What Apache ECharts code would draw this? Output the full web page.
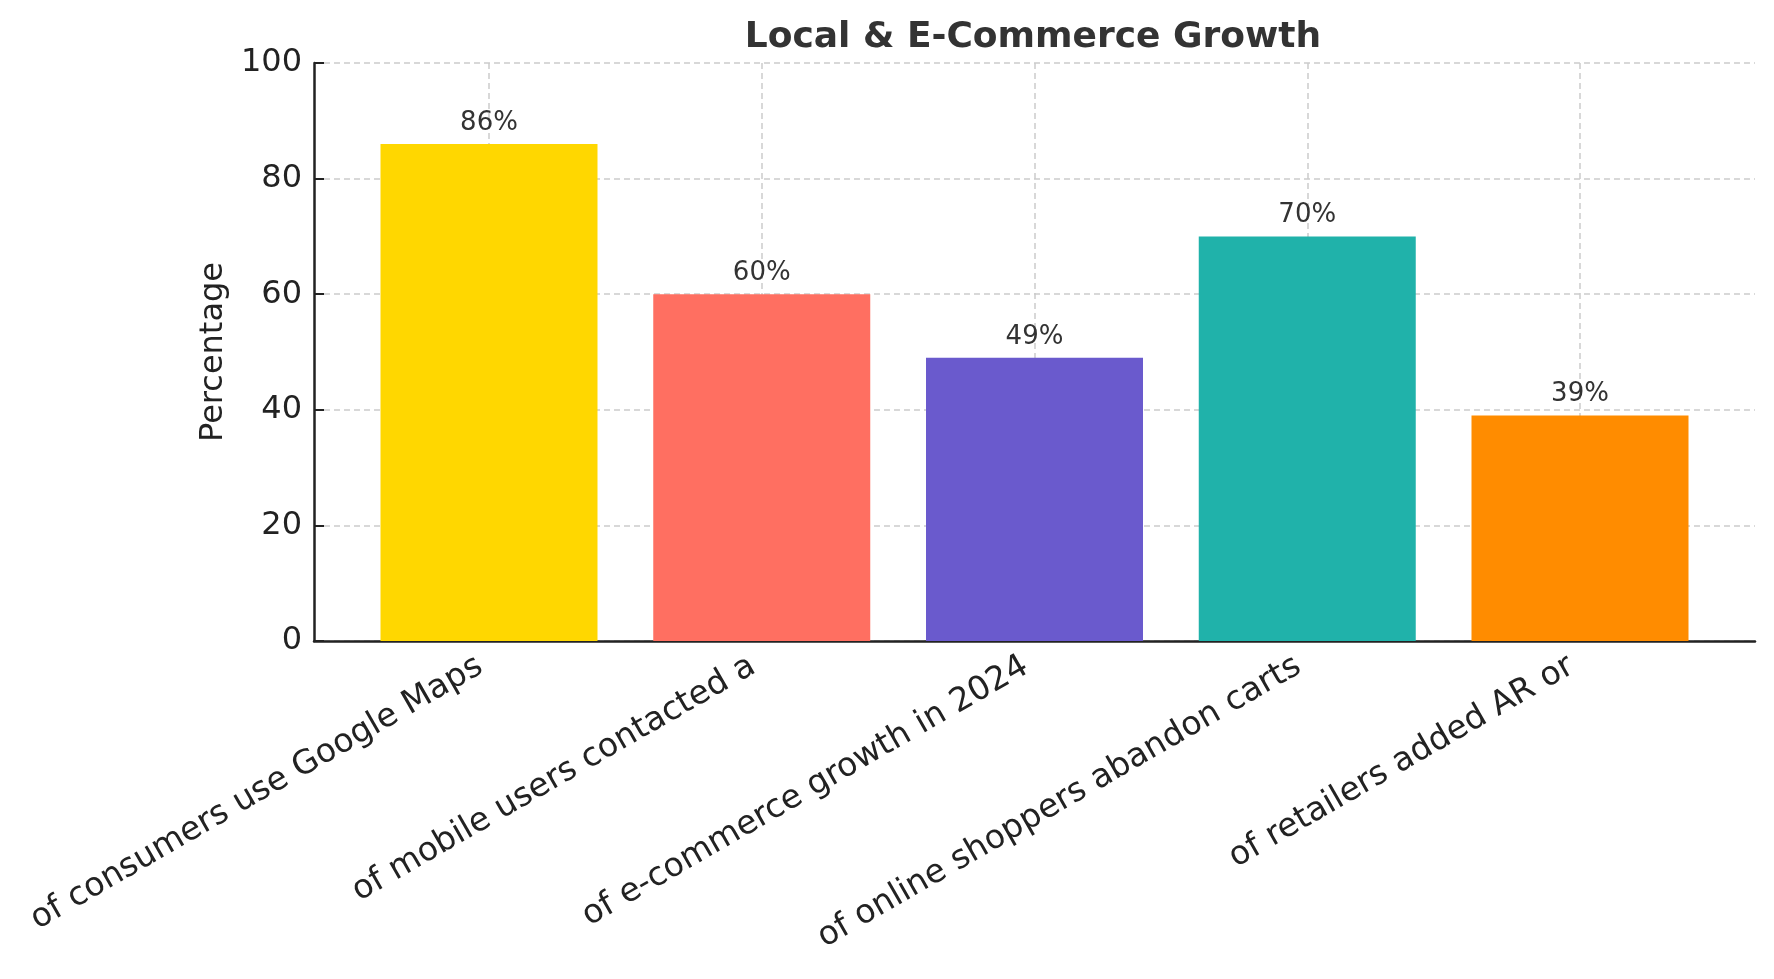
<!DOCTYPE html>
<html>
<head>
<meta charset="utf-8">
<title>Local & E-Commerce Growth</title>
<script src="https://cdn.jsdelivr.net/npm/echarts@6/dist/echarts.min.js"></script>
<style>
  html, body { margin: 0; padding: 0; background: #fff; }
  #chart { width: 1774px; height: 979px; }
</style>
</head>
<body>
<div id="chart"></div>
<script>
// data
const categories = [
  'of consumers use Google Maps',
  'of mobile users contacted a',
  'of e-commerce growth in 2024',
  'of online shoppers abandon carts',
  'of retailers added AR or'
]
const percentValues = [86, 60, 49, 70, 39]
const barColors = ['#FFD700', '#FF6F61', '#6A5ACD', '#20B2AA', '#FF8C00']
const yTicks = [0, 20, 40, 60, 80, 100]

const font = 'DejaVu Sans'
const axisColor = '#222'
const gridLine = { show: true, lineStyle: { color: '#cccccc', type: [6, 4], width: 1.5 } }

const chart = echarts.init(document.getElementById('chart'))

chart.setOption({
  animation: false,
  title: {
    text: 'Local & E-Commerce Growth',
    left: 1028,
    top: 15,
    textAlign: 'center',
    textStyle: { fontFamily: font, fontSize: 36, fontWeight: 'bold', color: '#333' }
  },
  grid: [
    // full plot area: spines + horizontal grid
    { left: 314, right: 19, top: 63, bottom: 338 },
    // bar area: first to last category centre
    { left: 489, right: 194, top: 63, bottom: 338 }
  ],
  xAxis: [
    {
      gridIndex: 0,
      type: 'value',
      min: 0,
      max: 1,
      axisLine: { show: true, lineStyle: { color: axisColor, width: 2.5 } },
      axisTick: { show: false },
      axisLabel: { show: false },
      splitLine: { show: false }
    },
    {
      gridIndex: 1,
      type: 'category',
      data: categories,
      boundaryGap: false,
      axisLine: { show: false },
      axisTick: { show: true, inside: true, length: 10, lineStyle: { color: axisColor, width: 2 } },
      axisLabel: {
        rotate: 30,
        interval: 0,
        margin: 18,
        padding: [0, 10, 0, 0],
        fontFamily: font,
        fontSize: 33,
        color: axisColor
      },
      splitLine: gridLine
    }
  ],
  yAxis: [
    {
      gridIndex: 0,
      type: 'value',
      min: yTicks[0],
      max: yTicks[yTicks.length - 1],
      interval: 20,
      name: 'Percentage',
      nameLocation: 'middle',
      nameGap: 84,
      nameTextStyle: { fontFamily: font, fontSize: 32, color: axisColor },
      axisLine: { show: true, lineStyle: { color: axisColor, width: 2.5 } },
      axisTick: { show: true, inside: true, length: 10, lineStyle: { color: axisColor, width: 2 } },
      axisLabel: { margin: 12, fontFamily: font, fontSize: 32, color: axisColor },
      splitLine: gridLine
    },
    {
      gridIndex: 1,
      type: 'value',
      min: 0,
      max: 100,
      show: false
    }
  ],
  series: [
    {
      type: 'bar',
      xAxisIndex: 1,
      yAxisIndex: 1,
      barWidth: 217,
      clip: false,
      data: percentValues.map((v, i) => ({ value: v, itemStyle: { color: barColors[i] } })),
      label: {
        show: true,
        position: 'top',
        distance: 8,
        formatter: '{c}%',
        fontFamily: font,
        fontSize: 26,
        color: '#333'
      }
    }
  ]
})
</script>
</body>
</html>
